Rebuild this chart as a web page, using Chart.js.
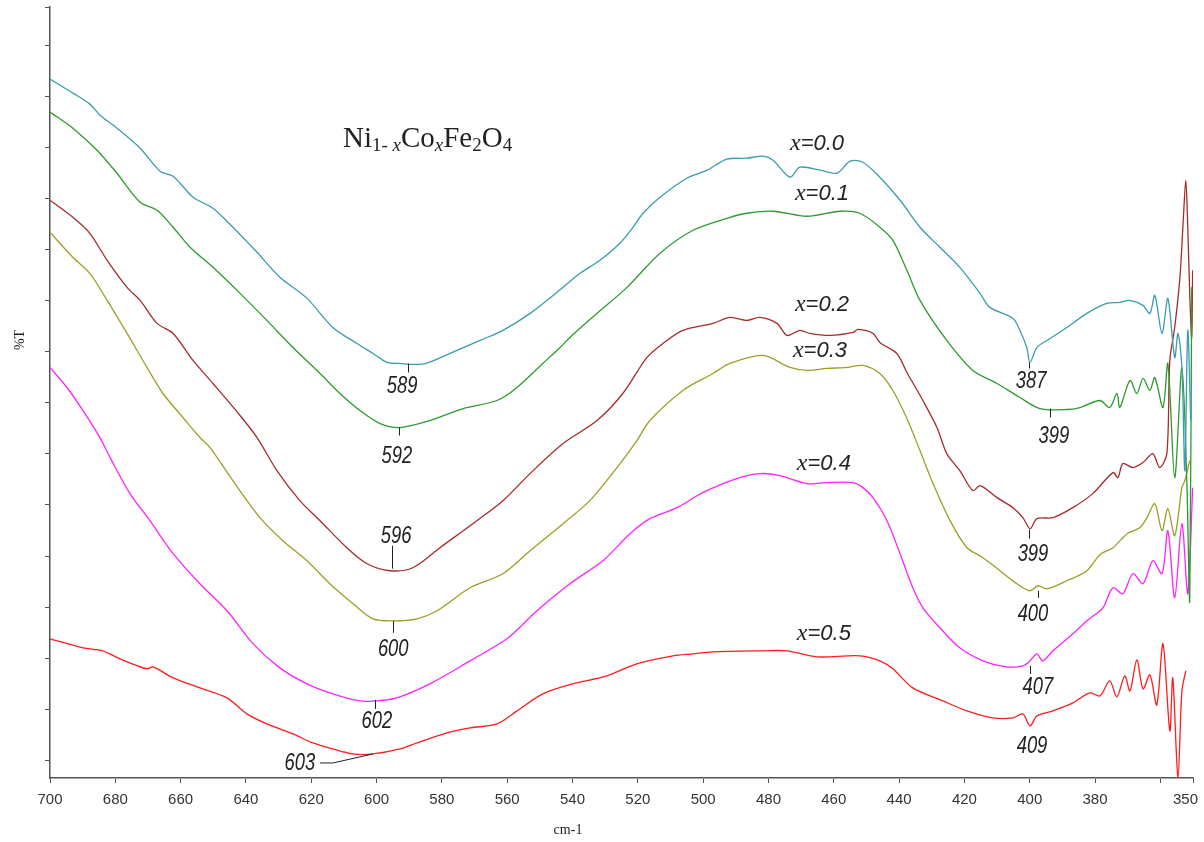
<!DOCTYPE html>
<html>
<head>
<meta charset="utf-8">
<script src="https://cdn.jsdelivr.net/npm/chart.js@4.4.1/dist/chart.umd.min.js"></script>
<style>
    html, body { margin: 0; padding: 0; background: #fff; }
</style>
</head>
<body>
<canvas id="graph" width="1204" height="842"></canvas>
<script>
// wavenumber (cm-1), transmittance in arbitrary units
const spectrum00 = [[700,69.8],[693,68.4],[687.8,67.3],[684.7,66.2],[679.5,64.9],[672.4,62.9],[666.3,60.6],[662.3,60.1],[656.2,58.0],[650.1,56.9],[644,55.0],[636.6,52.5],[629.6,50.0],[621.3,47.9],[613.4,45.0],[606,43.4],[601.1,42.4],[596.8,41.5],[592.8,41.4],[588.9,41.3],[584.9,41.4],[577.5,42.4],[568.3,43.7],[561.3,44.7],[553,46.4],[542.9,49.0],[537.7,50.4],[531.6,51.7],[525.5,53.4],[521.5,55.0],[518.4,56.4],[513.2,58.0],[505,59.9],[498.8,60.7],[492.7,61.8],[486.6,61.9],[481.7,62.1],[478.6,61.7],[473.4,60.0],[470.4,61.0],[464.2,60.7],[459,60.4],[455,61.6],[451.1,61.5],[445.9,60.0],[439.7,57.7],[433.6,55.0],[427.5,53.0],[421.4,51.0],[415.2,48.4],[412.2,47.0],[405.1,45.9],[403,44.7],[400.9,43.0],[399.9,41.5],[397.8,43.0],[394.7,43.7],[388.6,45.0],[382.5,46.4],[376.4,47.4],[372.4,47.5],[369.3,47.7],[365.3,47.2],[363.2,46.4],[361.7,48.2],[359.5,44.4],[357.7,47.9],[355.6,42.0],[354.6,44.4],[353.4,41.0],[352.5,30.7],[351.6,44.7],[350.7,35.7]]
const spectrum01 = [[700,66.5],[693,64.9],[685.6,62.7],[679.5,60.4],[672.4,57.5],[667.2,56.7],[662.3,55.0],[657.1,53.0],[650.1,51.0],[641.8,48.4],[633.6,45.7],[625.6,43.0],[617.3,40.4],[611.2,38.4],[605.1,36.7],[598.9,35.4],[592.8,35.0],[583.7,35.7],[573.5,36.9],[563.1,37.7],[557,39.0],[549.1,41.4],[543.8,43.0],[540.8,44.0],[532.5,46.4],[523.3,49.0],[513.2,52.4],[503.1,54.7],[492.7,55.9],[486.6,56.4],[478.6,56.6],[468.2,56.1],[458.1,56.6],[452,56.4],[445.9,55.0],[441.9,53.7],[437.6,50.7],[433.6,47.7],[425.4,43.7],[417.4,40.7],[410,39.4],[403,38.0],[396.9,36.9],[388.6,36.8],[384.6,37.0],[378.5,37.7],[375.5,37.0],[373.3,38.4],[372.4,37.0],[369.3,39.7],[367.2,38.4],[365.3,39.9],[363.2,38.7],[361.7,40.0],[359.2,37.0],[357.7,41.4],[355.6,30.0],[353.4,41.0],[351.9,29.7],[351,17.7],[350.4,49.0]]
const spectrum02 = [[700,57.7],[693,56.0],[687.8,54.4],[682.5,51.7],[676.4,49.0],[672.4,47.7],[667.2,45.4],[662.3,44.4],[656.2,41.7],[650.1,39.4],[641.8,36.2],[636.6,34.0],[630.5,30.7],[623.5,27.7],[617.3,25.7],[609.1,23.0],[602.9,21.4],[595.9,20.7],[588.9,21.0],[580.6,23.0],[569.3,25.7],[561.3,27.7],[553,30.4],[542.9,33.4],[532.5,35.7],[524.6,38.4],[517.2,42.0],[512.3,43.4],[506.2,44.7],[497,45.4],[491.8,46.0],[486.6,45.7],[482.6,46.0],[477.4,45.4],[474.3,44.2],[470.4,44.7],[467.3,44.4],[461.2,44.2],[454.1,44.5],[452.6,44.8],[448,44.4],[445.9,43.5],[440.7,42.4],[437.6,40.5],[432.7,37.7],[428.4,35.0],[425.4,32.4],[421.4,30.7],[417.4,28.7],[415.2,29.2],[410,28.0],[405.1,27.0],[402.1,26.0],[399.9,24.9],[397.8,25.9],[392.9,26.0],[386.8,27.0],[380.7,28.4],[374.5,30.5],[373,30.0],[371.5,31.4],[368.4,31.0],[365.3,31.5],[362.3,32.4],[360.2,31.0],[358,32.4],[357.1,41.7],[355.6,45.0],[354,50.0],[353.1,55.0],[352.2,59.7],[351.6,55.0],[351,48.4],[350.4,44.0],[350.1,50.7]]
const spectrum03 = [[700,54.5],[693,52.0],[687.8,50.4],[682.5,47.7],[676.4,44.4],[670.3,41.0],[665.4,38.4],[659.3,36.0],[654.1,34.0],[651,33.0],[644,29.7],[635.7,26.0],[628.7,23.7],[621.3,21.7],[614.3,19.4],[607.2,17.4],[601.1,15.9],[594.9,15.7],[587.6,15.9],[581.5,16.7],[571.4,19.0],[561.3,20.4],[553,22.7],[542.9,25.4],[534.7,27.7],[526.4,31.0],[520.3,33.7],[516.3,35.7],[506.2,38.7],[497,40.4],[491.8,41.4],[481.7,42.2],[473.4,41.0],[468.2,40.7],[462.1,40.9],[455.9,41.0],[451.1,41.2],[445.9,40.4],[441.9,38.7],[437.6,35.9],[433.6,32.7],[429.6,29.4],[424.4,25.7],[419.2,23.0],[414.3,22.0],[409.1,20.7],[403.9,19.4],[399.9,18.7],[397.5,19.2],[394.7,18.9],[388.6,19.7],[382.5,20.7],[378.5,22.3],[374.5,23.0],[370.2,24.4],[366.3,25.0],[364.1,26.0],[361.7,27.4],[359.5,24.7],[357.7,26.9],[355.6,24.2],[353.4,29.0],[352.5,29.7],[351,31.7]]
const spectrum04 = [[700,41.0],[694.8,39.0],[689.9,36.7],[684.7,34.0],[681.6,32.0],[675.5,28.4],[669.4,25.7],[662.3,22.4],[654.1,19.4],[645.8,16.7],[637.8,13.4],[629.6,11.0],[621.3,9.4],[613.4,8.4],[605.1,7.7],[599.9,7.7],[593.8,8.0],[583.7,9.4],[571.4,11.7],[560.1,13.9],[550.9,16.7],[540.8,19.4],[530.7,21.7],[522.4,24.4],[516.3,25.9],[508,27.0],[500.1,28.5],[489.7,29.9],[482.6,30.4],[476.5,30.2],[468.2,29.4],[462.1,29.5],[454.1,29.5],[451.1,29.0],[448,28.0],[443.7,25.7],[439.7,22.4],[435.8,19.0],[432.7,17.0],[427.5,15.0],[421.4,13.0],[414.3,11.7],[407,11.1],[402.1,11.2],[399.9,11.7],[397.8,12.4],[396,11.7],[392.9,12.7],[386.8,14.4],[382.5,15.7],[377.6,17.0],[374.5,19.0],[371.5,18.4],[368.4,20.4],[365.3,19.4],[362.3,21.7],[359.5,20.4],[357.7,24.7],[355.6,18.0],[353.4,25.4],[351.6,18.4],[350.1,29.0]]
const spectrum05 = [[700,13.9],[689.9,13.0],[683.8,12.7],[678.6,11.9],[670.3,10.9],[668.5,11.1],[662.3,10.0],[654.1,9.0],[645.8,8.0],[639.7,6.4],[633.6,5.4],[625.6,4.4],[619.5,3.5],[613.4,2.9],[607.2,2.4],[601.1,2.4],[592.8,2.9],[587.6,3.5],[578.4,4.5],[571.4,5.0],[563.1,5.4],[557,6.7],[549.1,8.4],[539.9,9.4],[529.5,10.2],[520.3,11.4],[509.2,12.2],[503.1,12.4],[497,12.6],[481.7,12.7],[474.3,12.7],[465.2,12.1],[452,12.2],[445.9,11.7],[441.9,10.9],[435.8,9.0],[426.6,7.7],[419.2,6.7],[411.3,6.0],[405.1,6.0],[402.1,6.4],[399.9,5.2],[397.8,6.2],[392.9,6.7],[386.8,7.5],[381.6,8.5],[378.5,8.2],[375.5,9.7],[373.3,8.1],[370.9,10.2],[369.3,8.7],[367.2,11.8],[365.3,8.9],[363.2,10.3],[361.1,7.3],[359.2,13.4],[357.1,4.7],[356.2,10.0],[354.6,0],[353.4,8.7],[352.2,10.7]]

const seriesNames = ["0.0", "0.1", "0.2", "0.3", "0.4", "0.5"]
const seriesColors = ["#3a9cac", "#2e9a2e", "#a62b2b", "#9e9e26", "#ff22ff", "#ff1c1c"]
const seriesLabelAt = [[473.4, 62.7], [471.9, 57.7], [471.9, 46.6], [472.5, 42.0], [471.3, 30.8], [471.3, 13.8]]

// peak label text, label centre/baseline, tick mark (x, y from, y to)
const peakLabels = ["589", "592", "596", "600", "602", "603", "387", "399", "399", "400", "407", "409"]
const peakTextAt = [[592.2, 38.5], [593.8, 31.5], [594.0, 23.5], [594.9, 12.2], [599.9, 5.0], [623.5, 0.8], [399.6, 38.9], [392.6, 33.5], [399.0, 21.7], [399.0, 15.7], [397.5, 8.4], [399.3, 2.5]]
const peakTicks = [[590.4, 41.4, 40.5], [593.1, 35.0, 34.2], [595.2, 23.2, 20.9], [594.9, 15.7, 14.5], [600.5, 7.8, 6.9], null, [400.2, 41.5, 40.9], [393.8, 36.9, 36.0], [400.2, 24.8, 23.9], [397.5, 18.7, 18.0], [399.9, 11.2, 10.4], null]
const leader603 = [[617.3, 1.5], [613.4, 1.5], [601.1, 2.4]]

const xTicks = [700, 680, 660, 640, 620, 600, 580, 560, 540, 520, 500, 480, 460, 440, 420, 400, 380, 360, 350]
const yTicks = [1.7, 6.8, 11.9, 17.0, 22.1, 27.3, 32.4, 37.5, 42.6, 47.7, 52.8, 57.9, 63.0, 68.1, 73.2, 77]

const spectra = [spectrum00, spectrum01, spectrum02, spectrum03, spectrum04, spectrum05]

const labelPlugin = {
    id: "labels",
    afterDatasetsDraw(chart) {
        const ctx = chart.ctx
        const sx = chart.scales.x
        const sy = chart.scales.y
        const area = chart.chartArea
        ctx.save()
        ctx.fillStyle = "#222"
        ctx.strokeStyle = "#222"
        ctx.lineWidth = 1

        // axis titles, placed as in the original figure
        ctx.font = "14px 'Liberation Serif'"
        ctx.textAlign = "center"
        ctx.textBaseline = "middle"
        ctx.fillText("cm-1", area.left + 518, area.bottom + 52)
        ctx.save()
        ctx.translate(area.left - 30, area.top + 333)
        ctx.rotate(-Math.PI / 2)
        ctx.fillText("%T", 0, 0)
        ctx.restore()

        // formula title
        let tx = sx.getPixelForValue(610.3)
        const ty = sy.getPixelForValue(63.0)
        const parts = [
            ["Ni", "29px 'Liberation Serif'", 0],
            ["1- ", "19px 'Liberation Serif'", 4],
            ["x", "italic 19px 'Liberation Serif'", 4],
            ["Co", "29px 'Liberation Serif'", 0],
            ["x", "italic 19px 'Liberation Serif'", 4],
            ["Fe", "29px 'Liberation Serif'", 0],
            ["2", "19px 'Liberation Serif'", 4],
            ["O", "29px 'Liberation Serif'", 0],
            ["4", "19px 'Liberation Serif'", 4],
        ]
        ctx.textBaseline = "alphabetic"
        ctx.textAlign = "left"
        parts.forEach(([t, f, dy]) => {
            ctx.font = f
            ctx.fillText(t, tx, ty + dy)
            tx += ctx.measureText(t).width
        })

        // series labels
        seriesNames.forEach((name, i) => {
            let x = sx.getPixelForValue(seriesLabelAt[i][0])
            const y = sy.getPixelForValue(seriesLabelAt[i][1])
            ctx.font = "italic 24px 'Liberation Serif'"
            ctx.fillText("x", x, y)
            x += ctx.measureText("x").width
            ctx.font = "italic 22px 'Liberation Sans'"
            ctx.fillText("=" + name, x, y)
        })

        // peak positions
        ctx.textAlign = "center"
        ctx.font = "italic 23px 'Liberation Sans'"
        peakLabels.forEach((t, i) => {
            const x = sx.getPixelForValue(peakTextAt[i][0])
            const y = sy.getPixelForValue(peakTextAt[i][1])
            ctx.save()
            ctx.translate(x, y)
            ctx.scale(0.8, 1)
            ctx.fillText(t, 0, 0)
            ctx.restore()
            const tk = peakTicks[i]
            if (tk) {
                const px = Math.round(sx.getPixelForValue(tk[0])) + 0.5
                ctx.beginPath()
                ctx.moveTo(px, sy.getPixelForValue(tk[1]))
                ctx.lineTo(px, sy.getPixelForValue(tk[2]))
                ctx.stroke()
            }
        })
        ctx.beginPath()
        leader603.forEach(([w, v], i) => {
            const x = sx.getPixelForValue(w)
            const y = sy.getPixelForValue(v)
            if (i == 0) ctx.moveTo(x, y)
            else ctx.lineTo(x, y)
        })
        ctx.stroke()
        ctx.restore()
    },
}

const chartID = document.getElementById("graph").getContext("2d")
const graphic = new Chart(chartID, {
    type: "line",
    data: {
        datasets: spectra.map((s, i) => ({
            label: "x=" + seriesNames[i],
            data: s,
            borderColor: seriesColors[i],
            borderWidth: 1.3,
            pointRadius: 0,
            tension: 0.3,
            fill: false,
        })),
    },
    options: {
        responsive: false,
        animation: false,
        devicePixelRatio: 1,
        layout: { padding: { left: 45, right: 11, top: 7, bottom: 25 } },
        plugins: {
            legend: { display: false },
            tooltip: { enabled: false },
        },
        scales: {
            x: {
                type: "linear",
                reverse: true,
                min: 350,
                max: 700,
                afterBuildTicks: (s) => {
                    s.ticks = xTicks.map((v) => ({ value: v }))
                },
                afterFit: (s) => {
                    s.paddingLeft = 0
                    s.paddingRight = 0
                },
                ticks: {
                    autoSkip: false,
                    maxRotation: 0,
                    padding: 8,
                    color: "#333",
                    font: { family: "Liberation Sans", size: 15 },
                    // last label sits just left of its tick, as in the source
                    callback: (v) => (v === 360 ? "" : v === 350 ? "350\u2002\u2002" : v),
                },
                grid: { drawOnChartArea: false, tickLength: 5, color: "#555" },
                border: { color: "#555", width: 1.5 },
            },
            y: {
                min: 0,
                max: 77,
                afterBuildTicks: (s) => {
                    s.ticks = yTicks.map((v) => ({ value: v }))
                },
                ticks: { display: false },
                grid: { drawOnChartArea: false, tickLength: 5, color: "#555" },
                border: { color: "#555", width: 1.5 },
            },
        },
    },
    plugins: [labelPlugin],
})
</script>
</body>
</html>
